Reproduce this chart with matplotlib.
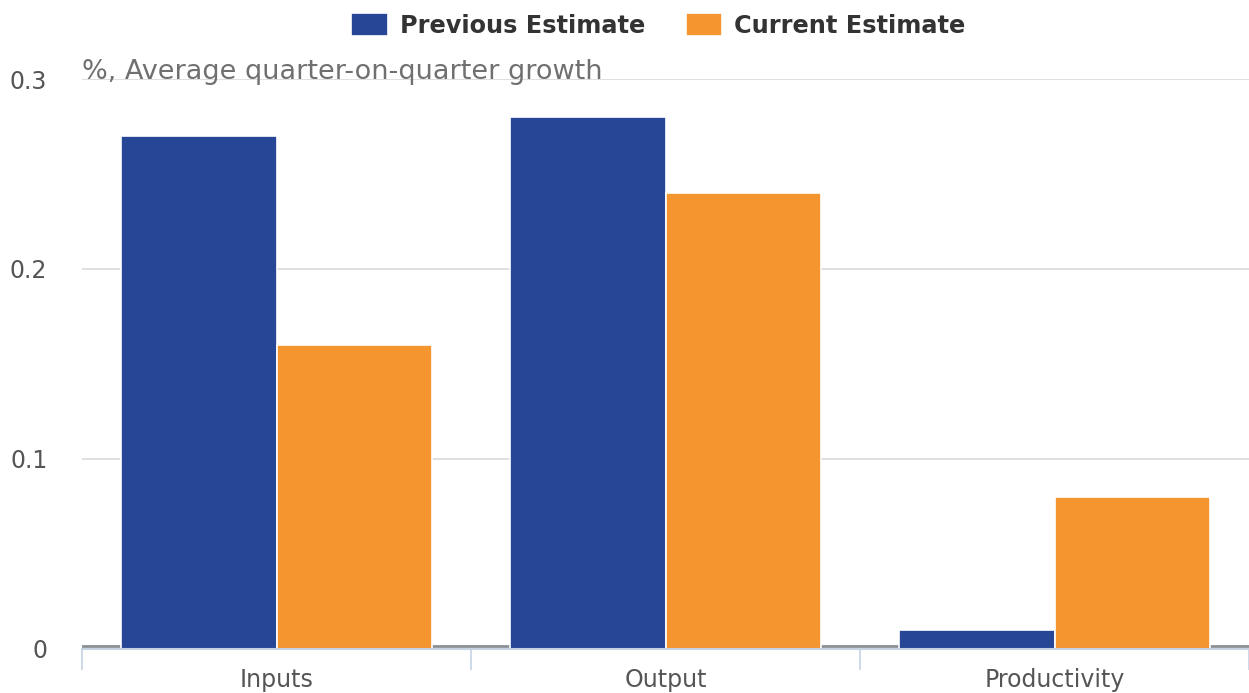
import matplotlib.pyplot as plt
import numpy as np

plt.rcParams["font.family"] = ["DejaVu Sans"]

categories = ["Inputs", "Output", "Productivity"]
previous_estimate = [0.27, 0.28, 0.01]
current_estimate = [0.16, 0.24, 0.08]
y_ticks = [0, 0.1, 0.2, 0.3]
y_tick_labels = ["0", "0.1", "0.2", "0.3"]

BLUE = "#274796"
ORANGE = "#F59530"
FS = 17

fig = plt.figure(figsize=(12.49, 6.93), dpi=100)
ax = fig.add_axes([0.0657, 0.0635, 0.9343, 0.8225])

x = np.arange(len(categories))
w = 0.4

# gridlines + zero line behind bars
for t in y_ticks[1:]:
    ax.axhline(t, color="#d9d9d9", linewidth=1.2, zorder=0)
ax.axhline(0.0015, color="#8a8f96", linewidth=2, zorder=1)

ax.bar(x - w / 2, previous_estimate, width=w, color=BLUE, edgecolor="white",
       linewidth=1.2, label="Previous Estimate", zorder=2)
ax.bar(x + w / 2, current_estimate, width=w, color=ORANGE, edgecolor="white",
       linewidth=1.2, label="Current Estimate", zorder=2)

ax.set_xlim(-0.5, len(categories) - 0.5)
ax.set_ylim(0, 0.3)

ax.set_yticks(y_ticks)
ax.set_yticklabels(y_tick_labels)
ax.tick_params(axis="y", length=0, pad=25, labelsize=FS, labelcolor="#555555")

ax.set_xticks(x)
ax.set_xticklabels(categories)
ax.tick_params(axis="x", which="major", length=0, pad=14, labelsize=FS,
               labelcolor="#555555")
ax.set_xticks(np.arange(-0.5, len(categories), 1.0), minor=True)
ax.tick_params(axis="x", which="minor", length=15, width=1.2, color="#c5d3e3")

for side in ["top", "right", "left"]:
    ax.spines[side].set_visible(False)
ax.spines["bottom"].set_color("#c5d3e3")
ax.spines["bottom"].set_linewidth(1.5)
ax.spines["bottom"].set_zorder(3)

ax.text(0.0, 1.0, "%, Average quarter-on-quarter growth", transform=ax.transAxes,
        ha="left", va="baseline", fontsize=19.5, color="#707070")

fig.legend(loc="upper center", bbox_to_anchor=(0.527, 1.012), ncol=2, frameon=False,
           prop={"weight": "bold", "size": 17.3}, labelcolor="#333333",
           handlelength=1.5, handleheight=1.1, handletextpad=0.5, columnspacing=1.7)

fig.savefig("out.png", dpi=100)
